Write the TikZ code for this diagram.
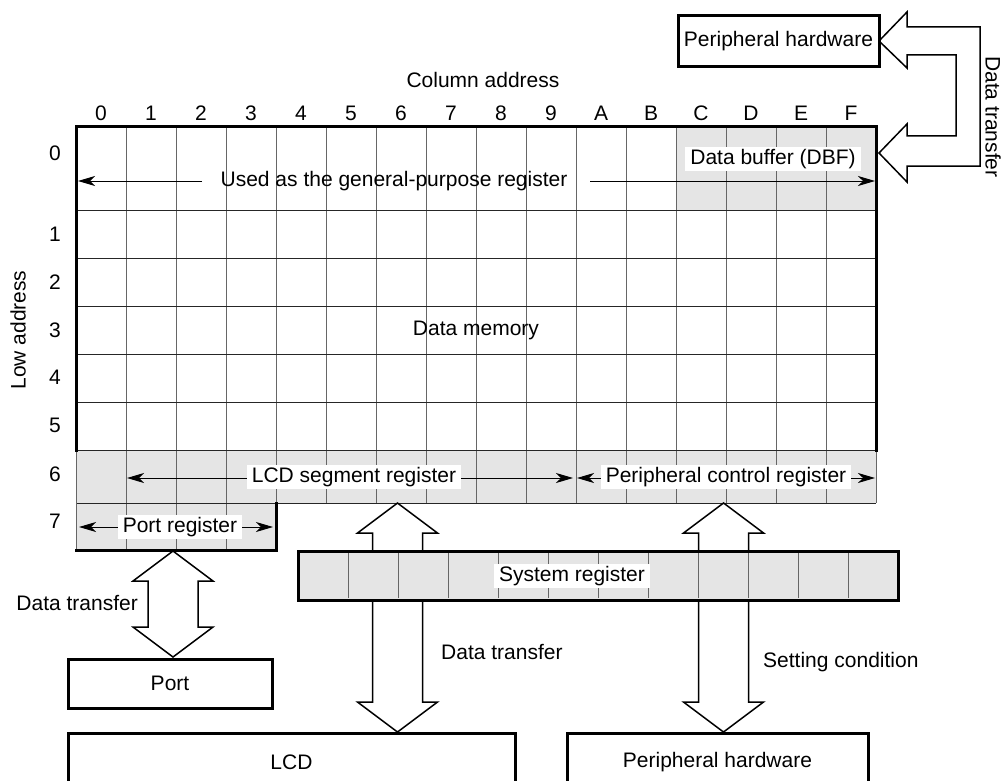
\documentclass[tikz,border=0pt]{standalone}
\usepackage{fontspec}
\setmainfont{Liberation Sans}
\usetikzlibrary{arrows.meta}
\begin{document}
\begin{tikzpicture}[x=1pt,y=-1pt,
  font=\fontsize{21}{25}\selectfont,
  box/.style={draw, line width=3pt, fill=white, inner sep=0pt},
  blk/.style={draw, line width=1.5pt, fill=white, line join=miter},
  lbl/.style={fill=white, inner xsep=5pt, inner ysep=2pt},
  plain/.style={inner sep=1pt},
  gridv/.style={draw=black!60, line width=1pt},
  gridh/.style={draw=black!85, line width=1pt},
  shade/.style={fill=black!10},
  thickb/.style={draw, line width=3pt, line cap=rect},
  dimline/.style={line width=1pt, -{Stealth[length=17pt,width=10pt,inset=5pt]}},
  dimboth/.style={line width=1pt, {Stealth[length=17pt,width=10pt,inset=5pt]}-{Stealth[length=17pt,width=10pt,inset=5pt]}}
]
\useasboundingbox (0,0) rectangle (1006,781);

% ---------- shaded areas ----------
\fill[shade] (676,127) rectangle (876,210);
\fill[shade] (76,450) rectangle (876,503);
\fill[shade] (76,503) rectangle (276,550);

% ---------- grid lines ----------
\foreach \i in {1,...,15} {
  \draw[gridv] (76+50*\i,127) -- (76+50*\i,503);
}
\foreach \i in {1,2,3} {
  \draw[gridv] (76+50*\i,503) -- (76+50*\i,550);
}
\foreach \y in {210,258,306,354,402,450} {
  \draw[gridh] (76,\y) -- (876,\y);
}
\draw[gridh] (76,503) -- (876,503);
\draw[gridv] (76,450) -- (76,550);
\draw[gridv] (876,450) -- (876,503);

% thick borders
\draw[thickb] (76,450) -- (76,127) -- (876,127) -- (876,450);
\draw[thickb] (76,550) -- (276,550) -- (276,503);

% ---------- column / row labels ----------
\node (coladdr) at (483,80) {Column address};
\foreach \c [count=\i from 0] in {0,1,2,3,4,5,6,7,8,9,A,B,C,D,E,F} {
  \node (col\i) at (101+50*\i,113) {\c};
}
\node (r0) at (55,153) {0};
\node (r1) at (55,234) {1};
\node (r2) at (55,282) {2};
\node (r3) at (55,330) {3};
\node (r4) at (55,377) {4};
\node (r5) at (55,425) {5};
\node (r6) at (55,474) {6};
\node (r7) at (55,521) {7};
\node[rotate=90] (lowaddr) at (18,330) {Low address};

% ---------- texts inside the memory ----------
\node (datamem) at (476,330) {Data memory};

\coordinate (gpl) at (78,181);
\coordinate (gpr) at (875,181);
\node[plain] (gp) at (394,181) {Used as the general-purpose register};
\draw[dimline] (202,181) -- (gpl);
\draw[dimline] (590,181) -- (gpr);

\node[lbl] (dbf) at (773,159) {Data buffer (DBF)};

\coordinate (lcdl) at (127,478);
\coordinate (lcdr) at (573,478);
\draw[dimboth] (lcdl) -- (lcdr);
\node[lbl] (lcdseg) at (354,477) {LCD segment register};

\coordinate (pcl) at (577,478);
\coordinate (pcr) at (875,478);
\draw[dimboth] (pcl) -- (pcr);
\node[lbl] (pcreg) at (726,477) {Peripheral control register};

\coordinate (prl) at (79,527);
\coordinate (prr) at (273,527);
\draw[dimboth] (prl) -- (prr);
\node[lbl] (portreg) at (180,527) {Port register};

% ---------- block arrows ----------
% system register -> LCD segment register
\draw[blk] (372.5,551) -- (372.5,533) -- (357.5,533) -- (397.5,503) -- (437.5,533) -- (422.5,533) -- (422.5,551);
% system register -> peripheral control register
\draw[blk] (698.5,551) -- (698.5,533) -- (683.5,533) -- (723.5,503) -- (763.5,533) -- (748.5,533) -- (748.5,551);
% system register -> LCD
\draw[blk] (372.5,600) -- (372.5,702) -- (357.5,702) -- (397.5,732) -- (437.5,702) -- (422.5,702) -- (422.5,600);
% system register -> peripheral hardware
\draw[blk] (698.5,600) -- (698.5,702) -- (683.5,702) -- (723.5,732) -- (763.5,702) -- (748.5,702) -- (748.5,600);
% port register <-> port
\draw[blk] (173,551) -- (213,581) -- (198,581) -- (198,627) -- (213,627) -- (173,657)
  -- (133,627) -- (148,627) -- (148,581) -- (133,581) -- cycle;
% peripheral hardware (top) <-> data buffer
\draw[blk] (879,41) -- (907,12) -- (907,27) -- (980,27) -- (980,166) -- (907,166) -- (907,182)
  -- (879,153) -- (907,124) -- (907,136) -- (956,136) -- (956,55) -- (907,55) -- (907,68) -- cycle;

% ---------- system register ----------
\node[draw, line width=3pt, fill=black!10, minimum width=600pt, minimum height=49pt, inner sep=0pt] (sysreg) at (598,575.5) {};
\foreach \i in {1,...,11} {
  \draw[gridv] (298+50*\i,553) -- (298+50*\i,598);
}
\node[lbl] (syslbl) at (572,576) {System register};

% ---------- boxes ----------
\node[box, minimum width=201pt, minimum height=51pt] (phtop) at (778.5,41.5) {Peripheral hardware};
\node[box, minimum width=204pt, minimum height=49pt] (port) at (170,683.5) {Port};
\node[box, minimum width=447pt, minimum height=58pt] (lcd) at (291.5,762) {LCD};
\node[box, minimum width=301pt, minimum height=58pt] (phbot) at (717.5,762) {Peripheral hardware};

% ---------- arrow labels ----------
\node[rotate=-90] (dtright) at (993,117) {Data transfer};
\node[anchor=east, plain] (dtleft) at (139,603) {Data transfer};
\node[anchor=west, plain] (dtmid) at (440,652) {Data transfer};
\node[anchor=west, plain] (setcond) at (762,662) {Setting condition};
\end{tikzpicture}
\end{document}
